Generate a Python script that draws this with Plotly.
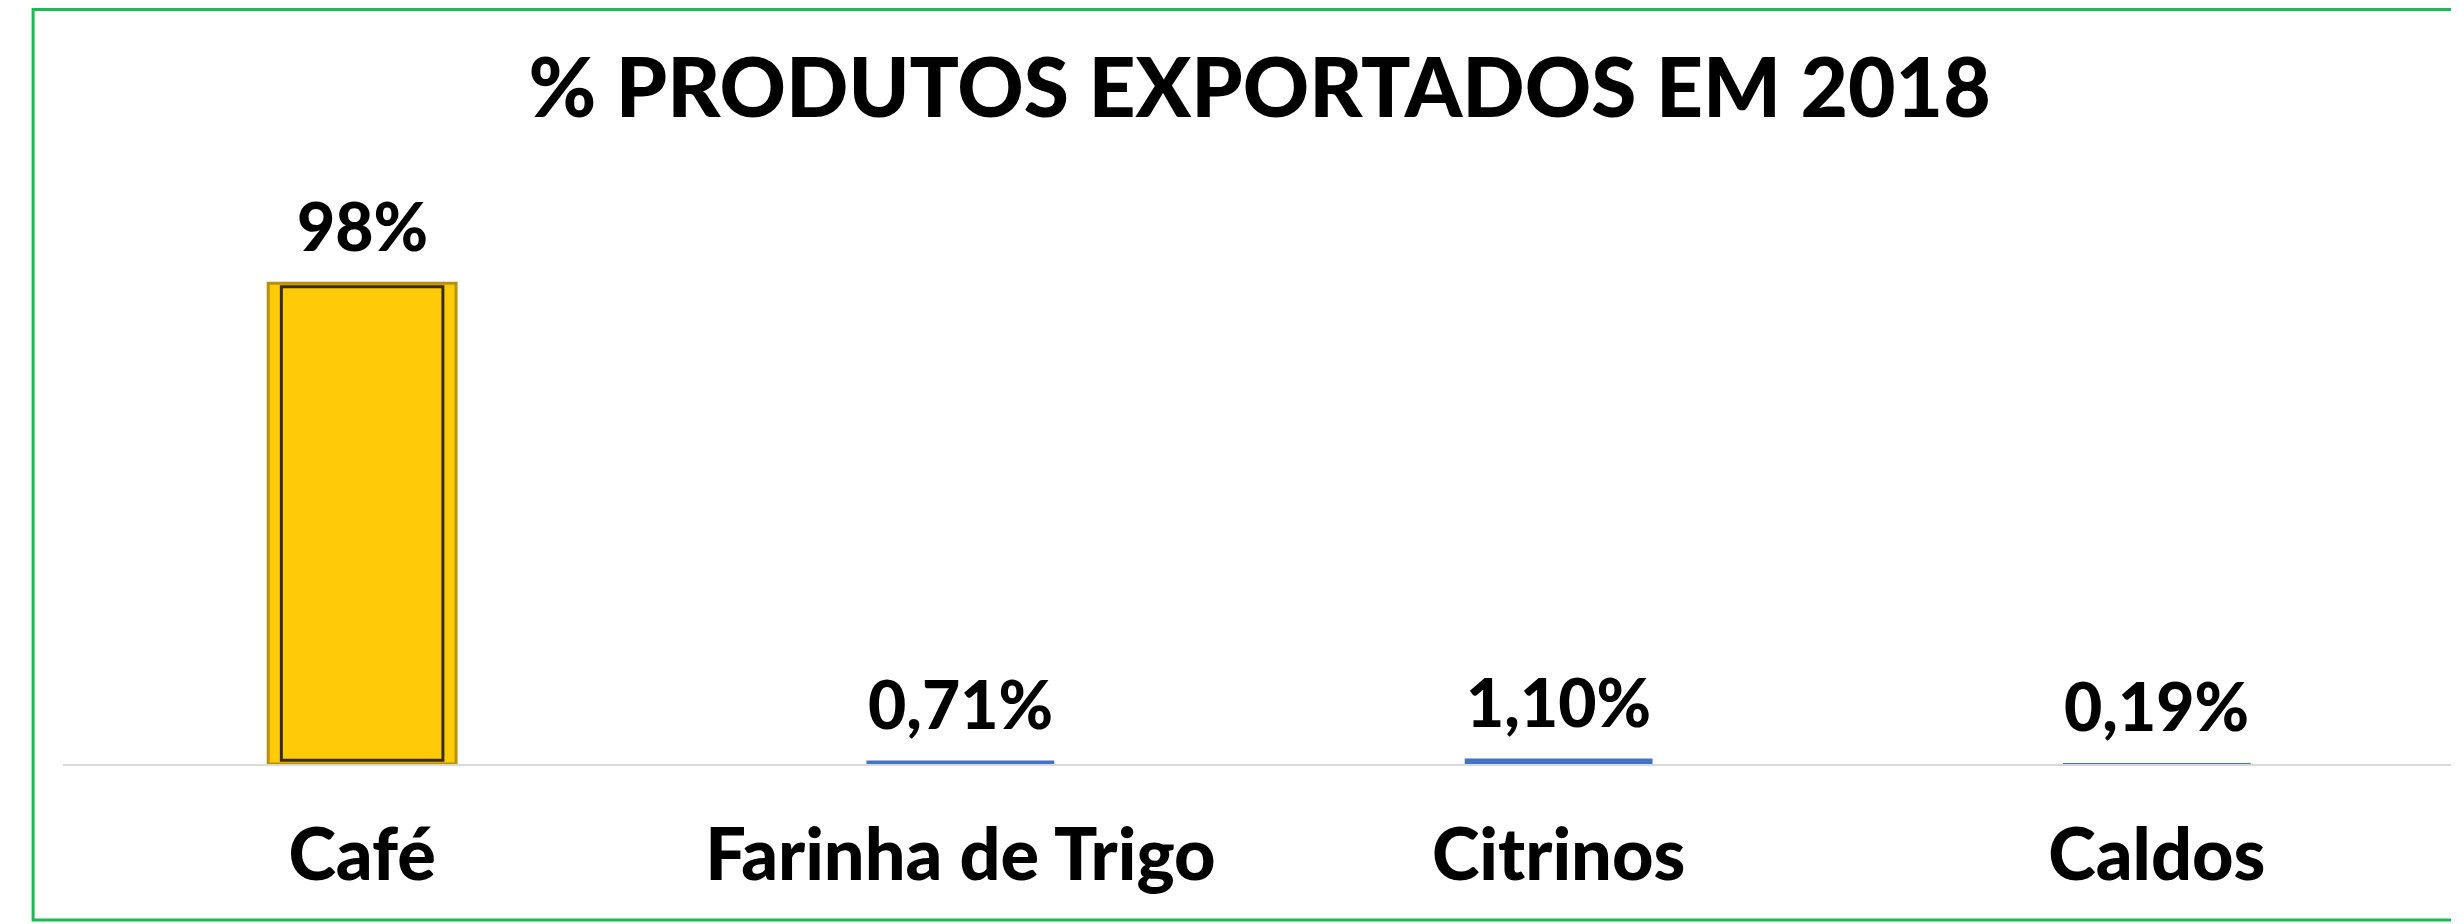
import plotly.graph_objects as go

categories = ["Café", "Farinha de Trigo", "Citrinos", "Caldos"]
values = [98, 0.71, 1.10, 0.19]
value_labels = ["98%", "0,71%", "1,10%", "0,19%"]
bar_colors = ["#FFCA08", "#4472C4", "#4472C4", "#4472C4"]
title_text = "% PRODUTOS EXPORTADOS EM 2018"

FONT = "Lato"

fig = go.Figure()
fig.add_trace(go.Bar(
    x=categories, y=values,
    marker=dict(color=bar_colors,
                line=dict(color=["#B8900A", "#4472C4", "#4472C4", "#4472C4"], width=[3, 0, 0, 0])),
    width=0.314, hoverinfo="skip",
))
# inner bevel outline for the highlighted bar
fig.add_trace(go.Bar(
    x=categories[:1], y=[values[0] * 0.985],
    base=[values[0] * 0.008],
    marker=dict(color="rgba(0,0,0,0)", line=dict(color="#3a2c00", width=3)),
    width=0.27, hoverinfo="skip",
))

for c, v, t in zip(categories, values, value_labels):
    fig.add_annotation(x=c, y=v, text=t, showarrow=False, yanchor="bottom", yshift=16,
                       font=dict(family=FONT, size=66, color="#000000", weight=900))

# open frame (top, left, bottom) – right edge lies outside the picture
fig.add_shape(type="path", xref="paper", yref="paper",
              path="M 1.1,1.3378 L -0.0125,1.3378 L -0.0125,-0.2766 L 1.1,-0.2766",
              line=dict(color="#1DB954", width=3), layer="below")

fig.update_layout(
    width=2459, height=924,
    margin=dict(l=55, r=11, t=192, b=168, autoexpand=False),
    paper_bgcolor="white", plot_bgcolor="white",
    barmode="overlay", showlegend=False,
    title=dict(text=title_text, x=0.509, xanchor="center", y=0.9134, yanchor="middle",
               font=dict(family=FONT, size=82, color="#000000", weight=900)),
    xaxis=dict(showline=True, linecolor="#D9D9D9", linewidth=2, ticks="", showgrid=False,
               automargin=False,
               tickfont=dict(family=FONT, size=72, color="#000000", weight=900),
               ticklabelstandoff=28),
    yaxis=dict(range=[0, 115], visible=False, showgrid=False, zeroline=False, automargin=False),
)

fig.write_html("out.html")
